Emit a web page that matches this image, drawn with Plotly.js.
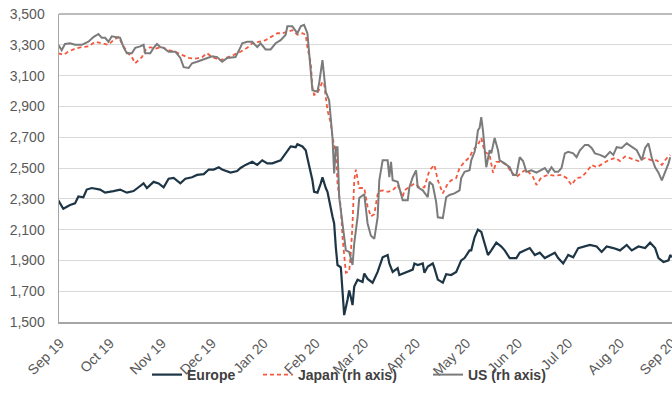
<!DOCTYPE html>
<html>
<head>
<meta charset="utf-8">
<script src="https://cdn.plot.ly/plotly-3.0.1.min.js"></script>
<style>html,body{margin:0;padding:0;background:#fff}#chart{width:672px;height:411px}</style>
</head>
<body>
<div id="chart"></div>
<script>
// ---- Data ----
const europeDates = ["2019-08-31","2019-09-03","2019-09-07","2019-09-10","2019-09-12","2019-09-15","2019-09-17","2019-09-20","2019-09-25","2019-09-28","2019-10-03","2019-10-07","2019-10-11","2019-10-15","2019-10-18","2019-10-21","2019-10-23","2019-10-27","2019-10-30","2019-11-02","2019-11-05","2019-11-08","2019-11-12","2019-11-15","2019-11-19","2019-11-22","2019-11-26","2019-11-29","2019-12-02","2019-12-05","2019-12-07","2019-12-12","2019-12-16","2019-12-18","2019-12-21","2019-12-25","2019-12-28","2019-12-31","2020-01-03","2020-01-06","2020-01-11","2020-01-14","2020-01-17","2020-01-20","2020-01-21","2020-01-24","2020-01-26","2020-01-27","2020-01-30","2020-01-31","2020-02-02","2020-02-04","2020-02-05","2020-02-07","2020-02-08","2020-02-11","2020-02-12","2020-02-13","2020-02-14","2020-02-16","2020-02-17","2020-02-18","2020-02-20","2020-02-21","2020-02-22","2020-02-23","2020-02-24","2020-02-26","2020-02-29","2020-03-01","2020-03-03","2020-03-06","2020-03-09","2020-03-12","2020-03-15","2020-03-16","2020-03-18","2020-03-21","2020-03-22","2020-03-27","2020-03-30","2020-03-31","2020-04-02","2020-04-05","2020-04-06","2020-04-08","2020-04-11","2020-04-12","2020-04-14","2020-04-17","2020-04-19","2020-04-22","2020-04-25","2020-04-28","2020-04-30","2020-05-03","2020-05-04","2020-05-06","2020-05-08","2020-05-10","2020-05-12","2020-05-14","2020-05-16","2020-05-19","2020-05-22","2020-05-24","2020-05-27","2020-05-31","2020-06-02","2020-06-05","2020-06-08","2020-06-11","2020-06-14","2020-06-17","2020-06-21","2020-06-23","2020-06-25","2020-06-28","2020-07-01","2020-07-04","2020-07-07","2020-07-10","2020-07-14","2020-07-18","2020-07-21","2020-07-24","2020-07-28","2020-08-01","2020-08-05","2020-08-08","2020-08-12","2020-08-16","2020-08-19","2020-08-22","2020-08-24","2020-08-27","2020-08-30","2020-08-31","2020-09-01"];
const europeValues = [2290,2235,2260,2270,2315,2310,2360,2370,2360,2340,2350,2360,2340,2350,2375,2400,2370,2410,2400,2375,2430,2435,2400,2430,2440,2455,2460,2490,2490,2505,2490,2470,2480,2500,2520,2540,2520,2550,2530,2530,2550,2595,2640,2635,2655,2640,2615,2565,2420,2345,2340,2400,2440,2370,2345,2185,2140,1985,1870,1855,1705,1545,1645,1705,1660,1610,1730,1775,1760,1815,1780,1755,1825,1920,1935,1880,1825,1850,1805,1825,1840,1880,1870,1880,1820,1860,1880,1850,1775,1755,1810,1805,1825,1900,1915,1965,1965,2050,2100,2085,2015,1935,1965,2015,1990,1965,1915,1915,1950,1965,1980,1935,1950,1915,1935,1950,1915,1880,1935,1920,1980,1990,2000,1990,1955,1990,1980,1965,2000,1965,1990,1980,2015,1980,1915,1890,1900,1935,1920];

const japanDates = ["2019-08-31","2019-09-03","2019-09-06","2019-09-10","2019-09-14","2019-09-18","2019-09-22","2019-09-26","2019-09-30","2019-10-03","2019-10-06","2019-10-08","2019-10-11","2019-10-14","2019-10-16","2019-10-18","2019-10-20","2019-10-22","2019-10-25","2019-10-28","2019-11-01","2019-11-05","2019-11-09","2019-11-13","2019-11-17","2019-11-21","2019-11-25","2019-11-28","2019-12-01","2019-12-06","2019-12-10","2019-12-14","2019-12-18","2019-12-22","2019-12-25","2019-12-30","2020-01-02","2020-01-05","2020-01-09","2020-01-12","2020-01-15","2020-01-18","2020-01-21","2020-01-24","2020-01-26","2020-01-27","2020-01-29","2020-01-30","2020-01-31","2020-02-02","2020-02-05","2020-02-06","2020-02-07","2020-02-08","2020-02-10","2020-02-11","2020-02-13","2020-02-14","2020-02-16","2020-02-17","2020-02-19","2020-02-21","2020-02-22","2020-02-23","2020-02-24","2020-02-25","2020-02-27","2020-03-01","2020-03-03","2020-03-05","2020-03-07","2020-03-09","2020-03-10","2020-03-12","2020-03-15","2020-03-18","2020-03-21","2020-03-24","2020-03-25","2020-03-28","2020-03-31","2020-04-03","2020-04-06","2020-04-09","2020-04-12","2020-04-14","2020-04-17","2020-04-20","2020-04-22","2020-04-25","2020-04-27","2020-04-30","2020-05-03","2020-05-05","2020-05-08","2020-05-10","2020-05-12","2020-05-15","2020-05-17","2020-05-19","2020-05-22","2020-05-25","2020-05-28","2020-05-31","2020-06-03","2020-06-06","2020-06-10","2020-06-12","2020-06-15","2020-06-19","2020-06-23","2020-06-27","2020-06-30","2020-07-03","2020-07-06","2020-07-09","2020-07-12","2020-07-15","2020-07-18","2020-07-22","2020-07-25","2020-07-29","2020-08-01","2020-08-04","2020-08-08","2020-08-12","2020-08-16","2020-08-20","2020-08-23","2020-08-26","2020-08-29","2020-08-31"];
const japanValues = [3245,3235,3255,3275,3285,3290,3320,3310,3300,3330,3350,3310,3255,3220,3180,3200,3220,3265,3285,3275,3285,3265,3255,3235,3215,3210,3220,3245,3220,3200,3215,3235,3255,3280,3310,3320,3330,3350,3375,3375,3385,3395,3365,3375,3365,3285,3180,3025,2975,2985,3060,3050,2960,2875,2790,2700,2600,2400,2245,2050,1820,1830,1950,2140,2420,2490,2370,2370,2250,2185,2200,2330,2350,2355,2345,2355,2390,2310,2355,2375,2400,2375,2375,2485,2520,2420,2335,2400,2420,2435,2500,2540,2570,2615,2650,2695,2605,2585,2470,2540,2540,2520,2475,2440,2470,2490,2440,2390,2440,2455,2450,2455,2435,2390,2435,2440,2475,2520,2505,2530,2550,2565,2545,2575,2560,2545,2565,2550,2550,2520,2565,2585];

const usDates = ["2019-08-31","2019-09-02","2019-09-04","2019-09-07","2019-09-10","2019-09-14","2019-09-18","2019-09-21","2019-09-24","2019-09-26","2019-09-28","2019-09-30","2019-10-02","2019-10-05","2019-10-07","2019-10-09","2019-10-11","2019-10-14","2019-10-16","2019-10-19","2019-10-21","2019-10-22","2019-10-25","2019-10-27","2019-10-29","2019-10-31","2019-11-02","2019-11-05","2019-11-09","2019-11-12","2019-11-14","2019-11-17","2019-11-19","2019-11-22","2019-11-25","2019-11-28","2019-12-01","2019-12-04","2019-12-07","2019-12-10","2019-12-15","2019-12-18","2019-12-19","2019-12-22","2019-12-25","2019-12-28","2019-12-30","2020-01-02","2020-01-05","2020-01-08","2020-01-11","2020-01-14","2020-01-15","2020-01-18","2020-01-21","2020-01-23","2020-01-25","2020-01-27","2020-01-28","2020-01-29","2020-01-30","2020-02-02","2020-02-03","2020-02-05","2020-02-06","2020-02-07","2020-02-09","2020-02-10","2020-02-11","2020-02-12","2020-02-13","2020-02-14","2020-02-15","2020-02-16","2020-02-18","2020-02-19","2020-02-21","2020-02-23","2020-02-24","2020-02-26","2020-02-27","2020-02-29","2020-03-01","2020-03-03","2020-03-05","2020-03-07","2020-03-09","2020-03-10","2020-03-12","2020-03-15","2020-03-16","2020-03-17","2020-03-18","2020-03-21","2020-03-22","2020-03-24","2020-03-27","2020-03-28","2020-03-30","2020-04-01","2020-04-02","2020-04-05","2020-04-08","2020-04-09","2020-04-11","2020-04-13","2020-04-14","2020-04-17","2020-04-19","2020-04-21","2020-04-24","2020-04-27","2020-04-28","2020-04-30","2020-05-03","2020-05-04","2020-05-06","2020-05-07","2020-05-08","2020-05-09","2020-05-10","2020-05-11","2020-05-13","2020-05-15","2020-05-16","2020-05-18","2020-05-20","2020-05-21","2020-05-24","2020-05-27","2020-05-29","2020-05-31","2020-06-02","2020-06-04","2020-06-06","2020-06-09","2020-06-12","2020-06-15","2020-06-17","2020-06-19","2020-06-21","2020-06-23","2020-06-25","2020-06-27","2020-06-29","2020-07-01","2020-07-04","2020-07-06","2020-07-08","2020-07-11","2020-07-13","2020-07-15","2020-07-17","2020-07-20","2020-07-23","2020-07-26","2020-07-28","2020-07-30","2020-08-02","2020-08-05","2020-08-08","2020-08-11","2020-08-14","2020-08-16","2020-08-18","2020-08-20","2020-08-22","2020-08-24","2020-08-26","2020-08-28","2020-08-30","2020-08-31"];
const usValues = [3300,3265,3305,3310,3300,3300,3320,3350,3370,3345,3345,3320,3355,3350,3345,3285,3245,3245,3280,3290,3300,3245,3245,3280,3305,3285,3280,3255,3255,3215,3155,3150,3180,3190,3200,3215,3225,3220,3190,3215,3220,3285,3310,3320,3320,3285,3310,3270,3270,3310,3330,3365,3420,3420,3375,3420,3430,3375,3245,3090,3005,2995,3050,3200,3090,2995,2940,2790,2700,2465,2635,2635,2310,2225,2030,1965,1955,1870,2010,2180,2305,2320,2330,2140,2060,2040,2180,2420,2550,2550,2440,2540,2420,2410,2370,2290,2290,2375,2440,2485,2375,2355,2310,2410,2390,2280,2180,2175,2310,2325,2335,2355,2435,2475,2485,2550,2605,2660,2745,2760,2830,2745,2505,2615,2595,2695,2615,2550,2530,2505,2455,2455,2570,2545,2475,2485,2470,2485,2500,2470,2505,2475,2475,2500,2595,2605,2595,2570,2615,2650,2650,2630,2595,2585,2570,2605,2585,2635,2630,2660,2635,2615,2550,2630,2660,2565,2505,2470,2420,2470,2530,2570];

const seriesNames = ["Europe", "Japan (rh axis)", "US (rh axis)"];
const monthTicks = ["2019-09-01","2019-10-01","2019-11-01","2019-12-01","2020-01-01","2020-02-01","2020-03-01","2020-04-01","2020-05-01","2020-06-01","2020-07-01","2020-08-01","2020-09-01"];
const monthLabels = ["Sep 19","Oct 19","Nov 19","Dec 19","Jan 20","Feb 20","Mar 20","Apr 20","May 20","Jun 20","Jul 20","Aug 20","Sep 20"];
const yTicks = [1500,1700,1900,2100,2300,2500,2700,2900,3100,3300,3500];

// ---- Chart ----
const FONT = '"Liberation Sans", Arial, sans-serif';
const traces = [
  {x: europeDates, y: europeValues, name: seriesNames[0], type: 'scatter', mode: 'lines',
   line: {color: '#1d3545', width: 2.2}, yaxis: 'y', legend: 'legend'},
  {x: japanDates, y: japanValues, name: seriesNames[1], type: 'scatter', mode: 'lines',
   line: {color: '#f5583e', width: 1.8, dash: '4px,3px'}, yaxis: 'y2', legend: 'legend2'},
  {x: usDates, y: usValues, name: seriesNames[2], type: 'scatter', mode: 'lines',
   line: {color: '#7b7b7b', width: 2}, yaxis: 'y2', legend: 'legend3'}
];

const legendFont = {family: FONT, size: 14, color: '#404040', weight: 'bold'};
function legendAt(px) {
  return {orientation: 'h', xref: 'container', yref: 'container', x: px / 672, xanchor: 'left',
          y: 1 - 359 / 411, yanchor: 'top', font: legendFont, bgcolor: 'rgba(0,0,0,0)'};
}

const layout = {
  width: 672, height: 411,
  margin: {l: 59, r: 0, t: 14, b: 89},
  paper_bgcolor: '#ffffff', plot_bgcolor: '#ffffff',
  font: {family: FONT, color: '#595959'},
  showlegend: true,
  legend: legendAt(147),
  legend2: legendAt(258),
  legend3: legendAt(428),
  xaxis: {type: 'date', range: ['2019-08-31 10:00', '2020-09-01 02:00'],
          tickmode: 'array', tickvals: monthTicks, ticktext: monthLabels,
          tickangle: -45, tickfont: {family: FONT, size: 14, color: '#595959'},
          ticklabelstandoff: 6, ticklabeloverflow: 'allow',
          showgrid: false, zeroline: false, showline: true, linecolor: '#a6a6a6', linewidth: 1.5,
          ticks: '', fixedrange: true},
  yaxis: {range: [1500, 3500], tickmode: 'array', tickvals: yTicks, tickformat: ',d',
          tickfont: {family: FONT, size: 14, color: '#595959'},
          showgrid: true, gridcolor: '#d9d9d9', gridwidth: 1, zeroline: false,
          showline: true, linecolor: '#a6a6a6', linewidth: 1.5, ticks: '', ticklabelstandoff: 10,
          fixedrange: true},
  yaxis2: {range: [1500, 3500], overlaying: 'y', side: 'right', showgrid: false,
           zeroline: false, showticklabels: false, showline: false, ticks: '', fixedrange: true},
  shapes: [{type: 'line', xref: 'paper', yref: 'paper', x0: 0, x1: 1, y0: 1, y1: 1,
            line: {color: '#a6a6a6', width: 1.5}}]
};

Plotly.newPlot('chart', traces, layout, {displayModeBar: false, staticPlot: true});
</script>
</body>
</html>
